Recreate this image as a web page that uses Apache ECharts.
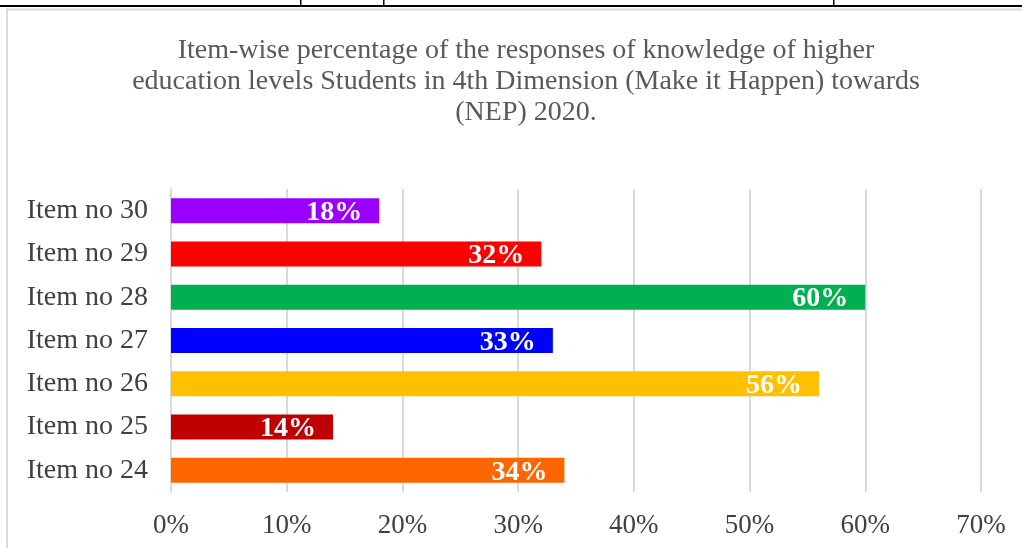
<!DOCTYPE html>
<html><head><meta charset="utf-8">
<script src="https://cdn.jsdelivr.net/npm/echarts@6/dist/echarts.min.js"></script>
<style>html,body{margin:0;padding:0;background:#fff}#c{width:1022px;height:548px}</style>
</head><body><div id="c"></div>
<script>
const categories = ['Item no 24','Item no 25','Item no 26','Item no 27','Item no 28','Item no 29','Item no 30'];
const values = [34, 14, 56, 33, 60, 32, 18];
const colors = ['#FF6600','#C00000','#FFC000','#0000FF','#00B050','#FF0000','#9900FF'];
const xTicks = [0,10,20,30,40,50,60,70];
const titleText = 'Item-wise percentage of the responses of knowledge of higher\neducation levels Students in 4th Dimension (Make it Happen) towards\n(NEP) 2020.';

const chart = echarts.init(document.getElementById('c'), null, {renderer:'canvas'});
chart.setOption({
  animation:false,
  backgroundColor:'#fff',
  title:{text:titleText,left:521,textAlign:'center',top:30,
    textStyle:{fontFamily:'Liberation Serif',fontSize:28,fontWeight:'normal',color:'#595959',lineHeight:31}},
  grid:{left:171,right:41,top:189,bottom:56,containLabel:false},
  xAxis:{type:'value',min:0,max:70,interval:10,
    axisLabel:{formatter:v=>v+'%',fontFamily:'Liberation Serif',fontSize:27,color:'#404040',margin:20},
    axisLine:{show:false},axisTick:{show:false},
    splitLine:{lineStyle:{color:'#d9d9d9',width:2}}},
  yAxis:{type:'category',data:categories,
    axisLabel:{fontFamily:'Liberation Serif',fontSize:28,color:'#404040',margin:23},
    axisLine:{show:true,lineStyle:{color:'#d9d9d9',width:2}},axisTick:{show:false}},
  series:[{type:'bar',barWidth:25,
    data:values.map((v,i)=>({value:v,itemStyle:{color:colors[i]}})),
    label:{show:true,position:'insideRight',offset:[-12,2],formatter:p=>p.value+'%',
      fontFamily:'Liberation Serif',fontSize:28,fontWeight:'bold',color:'#fff'}}],
  graphic:[
    {type:'rect',shape:{x:7,y:9.5,width:1030,height:560},style:{fill:'none',stroke:'#d9d9d9',lineWidth:2},silent:true},
    {type:'rect',shape:{x:0,y:5,width:1022,height:2},style:{fill:'#000'},silent:true},
    {type:'rect',shape:{x:300,y:0,width:1.5,height:5},style:{fill:'#000'},silent:true},
    {type:'rect',shape:{x:383,y:0,width:1.5,height:5},style:{fill:'#000'},silent:true},
    {type:'rect',shape:{x:833,y:0,width:1.5,height:5},style:{fill:'#000'},silent:true}
  ]
});
</script></body></html>
